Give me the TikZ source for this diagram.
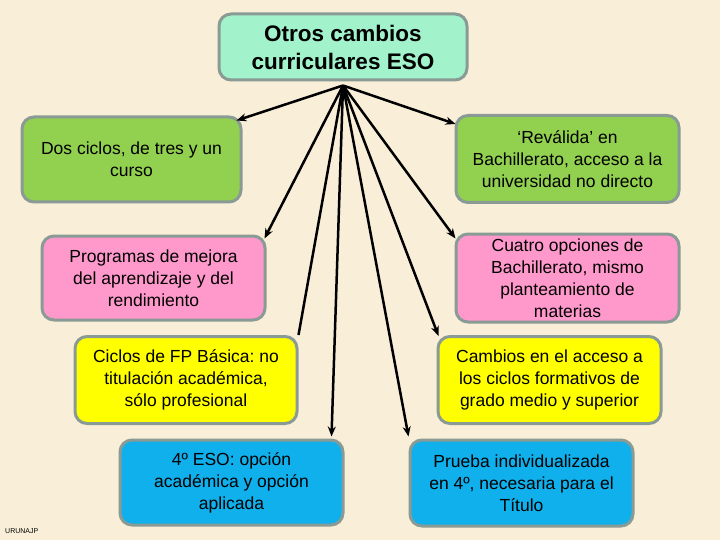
\documentclass[tikz,border=0pt]{standalone}
\usepackage{fontspec}
\setmainfont{Liberation Sans}
\frenchspacing
\usetikzlibrary{arrows.meta,calc}
\definecolor{bgc}{HTML}{F9EED8}
\definecolor{titlec}{HTML}{A2F2CC}
\definecolor{greenc}{HTML}{92D050}
\definecolor{pinkc}{HTML}{FF99CC}
\definecolor{yellowc}{HTML}{FFFF00}
\definecolor{bluec}{HTML}{0FB0EC}
\definecolor{borderc}{HTML}{8A9A94}
\tikzset{
  box/.style={draw=borderc, line width=3pt, rounded corners=12pt, align=center,
    inner sep=0pt, font=\fontsize{17.5}{22}\selectfont, text=black},
  conn/.style={line width=2.5pt, -{Stealth[length=10pt,width=8pt]}},
  plainconn/.style={line width=2.5pt}
}
\begin{document}
\begin{tikzpicture}[x=1pt,y=-1pt]
\fill[bgc] (0,0) rectangle (720,540);
\useasboundingbox (0,0) rectangle (720,540);
\node[box, fill=titlec, minimum width=248pt, minimum height=66pt, font=\bfseries\fontsize{22.5}{28}\selectfont] (title) at (343,47) {Otros cambios\\curriculares ESO};
\node[box, fill=greenc, minimum width=219pt, minimum height=85pt] (lg) at (131.5,159.5) {Dos ciclos, de tres y un\\curso};
\node[box, fill=greenc, minimum width=223pt, minimum height=87pt] (rg) at (567.5,159) {‘Reválida’ en\\Bachillerato, acceso a la\\universidad no directo};
\node[box, fill=pinkc, minimum width=223pt, minimum height=84pt] (lp) at (153.5,278) {Programas de mejora\\del aprendizaje y del\\rendimiento};
\node[box, fill=pinkc, minimum width=223pt, minimum height=88pt] (rp) at (567.5,278) {Cuatro opciones de\\Bachillerato, mismo\\planteamiento de\\materias};
\node[box, fill=yellowc, minimum width=222pt, minimum height=87pt] (ly) at (186,380) {Ciclos de FP Básica: no\\titulación académica,\\sólo profesional};
\node[box, fill=yellowc, minimum width=223pt, minimum height=87pt] (ry) at (549.5,380) {Cambios en el acceso a\\los ciclos formativos de\\grado medio y superior};
\node[box, fill=bluec, minimum width=223pt, minimum height=85pt] (lb) at (231.5,482.5) {4º ESO: opción\\académica y opción\\aplicada};
\node[box, fill=bluec, minimum width=223pt, minimum height=86pt] (rb) at (521.5,483) {Prueba individualizada\\en 4º, necesaria para el\\Título};
\node[font=\fontsize{7}{8}\selectfont, anchor=west, inner sep=0pt] (sig) at (5,531) {URUNAJP};
\coordinate (src) at ($(title.south)+(0,4)$);
\draw[conn] (src) -- ($(lg.north east)+(-6,5)$);
\draw[conn] (src) -- ($(rg.north west)+(1,10)$);
\draw[conn] (src) -- ($(lp.north east)+(-2,4)$);
\draw[conn] (src) -- ($(rp.north west)+(1,6)$);
\draw[plainconn] (src) -- ($(ly.north east)+(0,0)$);
\draw[conn] (src) -- ($(ry.north west)+(2,1)$);
\draw[conn] (src) -- ($(lb.north east)+(-13,-2)$);
\draw[conn] (src) -- ($(rb.north west)+(0,-2)$);
\end{tikzpicture}
\end{document}
